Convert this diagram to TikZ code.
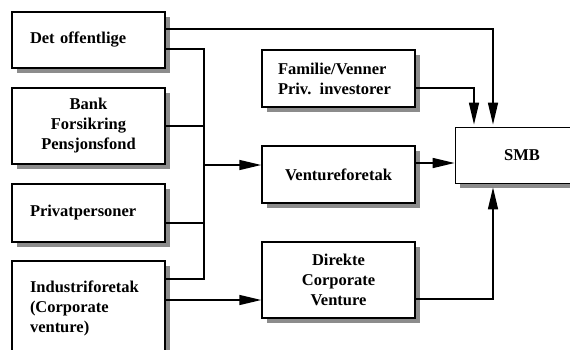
\documentclass[tikz,border=0pt]{standalone}
\usepackage{fontspec}
\setmainfont{Liberation Serif}
\usetikzlibrary{positioning, shadows}
\usetikzlibrary{arrows.meta}

\begin{document}
\begin{tikzpicture}[x=1pt, y=-1pt, >={Triangle[length=22pt,width=10pt]},
	box/.style={draw, line width=1.5pt, fill=white, minimum width=153pt, inner sep=0pt,
		font=\fontsize{16.5}{20}\selectfont\bfseries,
		drop shadow={shadow xshift=5pt, shadow yshift=-5pt, fill=black!45, opacity=1}},
	lbox/.style={box, align=left, text width=#1},
	cbox/.style={box, align=center},
	line/.style={line width=1.5pt}]

		\useasboundingbox (0,0) rectangle (570,349);
		\clip (0,0) rectangle (570,349);

		\node[lbox=117pt, minimum height=56pt] (off) at (88.5,40) {Det offentlige};
		\node[cbox, minimum height=76pt] (bank) at (88.5,126) {Bank\\Forsikring\\Pensjonsfond};
		\node[lbox=117pt, minimum height=58pt] (priv) at (88.5,213) {Privatpersoner};
		\node[lbox=117pt, minimum height=94pt] (ind) at (88.5,308) {Industriforetak\\(Corporate\\venture)};

		\node[lbox=121pt, minimum height=57pt] (fam) at (338.5,78.5) {Familie/Venner\\Priv. investorer};
		\node[cbox, minimum height=57pt] (vent) at (338.5,174.5) {Ventureforetak};
		\node[cbox, minimum height=76pt] (dir) at (338.5,280) {Direkte\\Corporate\\Venture};

		\node[cbox, line width=0.8pt, minimum width=134pt, minimum height=56pt] (smb) at (522,155) {SMB};

		% samleskinne
		\coordinate (b1) at (204,49);
		\coordinate (b2) at (204,126);
		\coordinate (b3) at (204,223);
		\coordinate (b4) at (204,279);
		\coordinate (b5) at (204,165);
		\coordinate (d1) at (204,300);
		\coordinate (top) at (493,29);
		\coordinate (fb) at (474,88);
		\coordinate (vo) at (415,163);
		\coordinate (db) at (493,299);

		\draw[line] (off.east |- b1) -- (b1) -- (b4) -- (ind.east |- b4);
		\draw[line] (bank.east |- b2) -- (b2);
		\draw[line] (priv.east |- b3) -- (b3);
		\draw[line,->] (b5) -- (b5 -| vent.west);
		\draw[line,->] (ind.east |- d1) -- (d1 -| dir.west);

		\draw[line,->,shorten >=2pt] (off.east |- top) -- (top) -- (top |- smb.north);
		\draw[line,->,shorten >=2pt] (fam.east |- fb) -- (fb) -- (fb |- smb.north);
		\draw[line,->] (vo) -- (vo -| smb.west);
		\draw[line,->,shorten >=4pt] (dir.east |- db) -- (db) -- (db |- smb.south);

\end{tikzpicture}
\end{document}
